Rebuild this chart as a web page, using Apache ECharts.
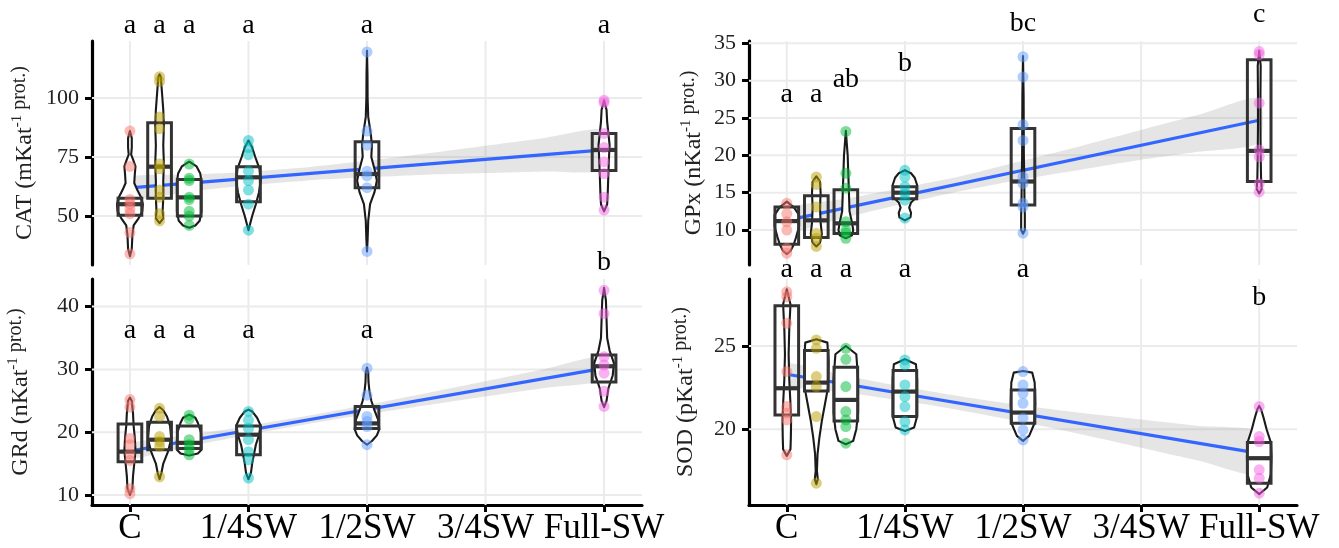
<!DOCTYPE html>
<html><head><meta charset="utf-8">
<script src="https://cdn.jsdelivr.net/npm/echarts@6/dist/echarts.min.js"></script>
<style>html,body{margin:0;padding:0;background:#fff}#c{width:1339px;height:548px}</style>
</head><body><div id="c"></div>
<script>
// ---------- shared categories / ticks ----------
const groupX = [0, 0.0625, 0.125, 0.25, 0.5, 1];
const xTickValues = [0, 0.25, 0.5, 0.75, 1];
const xTickLabels = ['C', '1/4SW', '1/2SW', '3/4SW', 'Full-SW'];
const fitX = [0, 1];
const bandX = [0, 0.125, 0.25, 0.375, 0.5, 0.625, 0.75, 0.875, 1];

// ---------- CAT ----------
const catTicks = [50, 75, 100];
const catPoints = [
  [86, 71, 57, 55, 53, 51, 43, 34],
  [109, 107, 92, 87, 72, 70, 61, 58, 51, 48],
  [72, 66, 65, 58, 57, 52, 50, 46],
  [82, 79, 76, 69, 65, 61, 55, 44],
  [119.5, 86, 80, 69, 67, 62, 35],
  [99, 98, 85, 79, 73, 68, 58, 52.5]
];
const catBox = [[50.3, 55, 57.5], [57.5, 70.9, 89.5], [50, 57.9, 65.5], [56, 66.4, 70.9], [62, 67.8, 81.5], [69.3, 78, 85]];
const catViolin = [
  [[33,0],[36,0.15],[42,0.2],[46,0.3],[49,0.7],[52,1.0],[55,1.05],[58,0.9],[61,0.6],[64,0.35],[68,0.4],[71,0.45],[74,0.25],[76,0.1],[79,0.15],[83,0.15],[86,0]],
  [[47,0],[49,0.3],[52,0.25],[58,0.3],[65,0.3],[72,0.35],[80,0.3],[88,0.35],[95,0.3],[102,0.2],[109,0.1],[110,0]],
  [[45,0],[46,0.5],[48,0.85],[52,1.0],[58,1.0],[64,1.0],[68,0.9],[71,0.6],[73,0]],
  [[44,0],[46,0.1],[50,0.3],[55,0.6],[60,0.85],[65,1.0],[70,0.9],[75,0.55],[79,0.3],[82,0]],
  [[35,0],[40,0.05],[48,0.1],[55,0.25],[60,0.6],[65,0.8],[70,0.6],[75,0.35],[80,0.4],[85,0.3],[92,0.1],[100,0.05],[110,0.04],[120,0]],
  [[52,0],[55,0.25],[60,0.3],[68,0.35],[75,0.4],[80,0.45],[85,0.35],[90,0.25],[95,0.2],[99,0]]
];
const catLetters = ['a', 'a', 'a', 'a', 'a', 'a'];
const catLetterY = [130.7, 130.7, 130.7, 130.7, 130.7, 130.7];
const catFitY = [61.9, 78.0];
const catBandUpper = [66.6, 67.5, 68.8, 70.7, 73.4, 76.5, 79.8, 83.1, 86.5];
const catBandLower = [57.2, 60.3, 63.0, 65.1, 66.4, 67.5, 68.2, 68.9, 69.5];

// ---------- GRd ----------
const grdTicks = [10, 20, 30, 40];
const grdPoints = [
  [25.2, 24, 19, 18, 16.5, 15.5, 11, 10.2],
  [23.8, 22.5, 19.3, 18.5, 17.7, 12.9],
  [22.7, 22.1, 18.8, 18, 17.2, 16.4],
  [23.3, 21.9, 20.6, 18.8, 16.9, 15.6, 12.7],
  [30.2, 25.9, 22.5, 21.7, 20.9, 18],
  [42.6, 38.9, 32, 30.7, 29.4, 26.5, 24.1]
];
const grdBox = [[15.3, 16.9, 21.3], [17.2, 18.8, 21.6], [17.4, 18.3, 21.0], [16.4, 19.6, 21.0], [20.6, 21.4, 24.1], [28.0, 30.5, 32.3]];
const grdViolin = [
  [[10,0],[11,0.2],[13,0.25],[15,0.35],[17,0.45],[19,0.4],[21,0.3],[23,0.25],[25,0.15],[25.5,0]],
  [[12.5,0],[13.5,0.15],[15,0.3],[17,0.7],[19,0.95],[21,0.85],[22.5,0.6],[23.5,0.3],[24,0]],
  [[16.3,0],[16.6,0.7],[17.2,1.0],[18.5,1.0],[20,0.95],[21.5,0.7],[22.3,0.5],[22.8,0]],
  [[12.5,0],[13.5,0.2],[15,0.3],[16.5,0.45],[18,0.6],[19.5,0.85],[21,1.0],[22.3,0.7],[23.3,0.3],[23.6,0]],
  [[18,0],[18.6,0.4],[19.5,0.8],[20.5,1.0],[22,0.9],[23.5,0.6],[25,0.35],[26.5,0.2],[28,0.12],[29.5,0.1],[30.3,0]],
  [[24,0],[25,0.2],[27,0.35],[29,0.7],[31,0.8],[33,0.45],[35,0.25],[38,0.2],[41,0.15],[43,0]]
];
const grdLetters = ['a', 'a', 'a', 'a', 'a', 'b'];
const grdLetterY = [36.2, 36.2, 36.2, 36.2, 36.2, 47];
const grdFitY = [17.0, 30.2];
const grdBandUpper = [18.2, 19.55, 21.0, 22.6, 24.35, 26.2, 28.1, 30.05, 32.1];
const grdBandLower = [15.8, 17.75, 19.6, 21.3, 22.85, 24.3, 25.7, 27.05, 28.3];

// ---------- GPx ----------
const gpxTicks = [10, 15, 20, 25, 30, 35];
const gpxPoints = [
  [13.6, 12.2, 11.1, 10, 7.55, 6.9],
  [17.1, 16.1, 13.1, 9.55, 8.9, 7.8],
  [23.2, 17.6, 15.6, 11.1, 10, 9.6, 8.9],
  [18, 17.1, 15.8, 14.9, 14, 11.6],
  [33.2, 30.5, 24.1, 22, 17.1, 16.2, 13.6, 13.1, 9.6],
  [33.9, 33.5, 27, 20.7, 19.8, 16.2, 15.1]
];
const gpxBox = [[8.1, 11.2, 13.1], [9.0, 11.3, 14.6], [9.55, 10.9, 15.4], [14.2, 15.0, 15.8], [13.35, 16.5, 23.6], [16.5, 20.6, 32.8]];
const gpxViolin = [
  [[6.8,0],[7.2,0.3],[8,0.55],[9,0.75],[10.5,1.0],[12,1.0],[13,0.6],[13.8,0]],
  [[7.8,0],[8.3,0.3],[9.5,0.45],[11,0.35],[13,0.3],[15,0.35],[16.5,0.3],[17.2,0]],
  [[8.9,0],[9.3,0.5],[10,0.6],[11,0.5],[12.5,0.3],[15,0.25],[17.5,0.2],[20,0.15],[23.3,0]],
  [[11.3,0],[11.7,0.45],[12.3,0.5],[13,0.35],[13.7,0.5],[14.5,1.0],[16,1.0],[17,0.8],[17.6,0.5],[18,0]],
  [[9.5,0],[10,0.15],[12,0.15],[14,0.12],[17,0.1],[20,0.07],[24,0.06],[28,0.05],[33.3,0]],
  [[14.9,0],[15.5,0.2],[17,0.15],[20,0.12],[24,0.1],[28,0.1],[32,0.12],[34,0]]
];
const gpxLetters = ['a', 'a', 'ab', 'b', 'bc', 'c'];
const gpxLetterY = [28.1, 28.1, 30.1, 32.3, 37.6, 38.8];
const gpxFitY = [11.3, 24.7];
const gpxBandUpper = [12.9, 14.2, 15.7, 17.3, 19.3, 21.3, 23.4, 25.5, 27.7];
const gpxBandLower = [9.7, 11.7, 13.6, 15.3, 16.8, 18.1, 19.4, 20.5, 21.7];

// ---------- SOD ----------
const sodTicks = [20, 25];
const sodPoints = [
  [28.25, 27.95, 26.36, 23.46, 21.36, 20.96, 20.56, 18.46],
  [25.36, 24.86, 23.16, 22.56, 20.76, 16.76],
  [24.86, 24.2, 22.56, 21.06, 20.56, 20.16, 19.16],
  [24.16, 23.86, 22.66, 21.96, 21.36, 20.46, 19.96],
  [23.46, 22.66, 22.16, 21.56, 20.66, 19.96, 19.36],
  [21.36, 19.56, 19.26, 17.56, 17.06, 16.16]
];
const sodBox = [[20.86, 22.46, 27.42], [22.3, 22.8, 24.72], [20.5, 21.76, 23.72], [20.76, 22.26, 23.52], [20.36, 21.0, 22.36], [16.76, 18.26, 19.2]];
const sodViolin = [
  [[18.4,0],[18.8,0.3],[19.5,0.33],[20.5,0.35],[21.5,0.3],[23,0.2],[24.5,0.15],[26,0.2],[27.5,0.3],[28.4,0]],
  [[16.7,0],[17,0.12],[17.5,0.05],[18.5,0.1],[19.5,0.25],[20.5,0.45],[21.5,0.7],[22.5,0.95],[24,1.0],[25.2,0.9],[25.4,0]],
  [[19.1,0],[19.3,0.6],[20,0.85],[21,1.0],[23,1.0],[24.5,0.85],[25,0]],
  [[19.9,0],[20.1,0.75],[20.8,1.0],[23,1.0],[23.9,0.9],[24.2,0]],
  [[19.3,0],[19.6,0.5],[20.3,0.9],[21.5,1.0],[22.8,0.95],[23.4,0.75],[23.5,0]],
  [[16.1,0],[16.5,0.65],[17.3,0.95],[18.3,1.0],[19.2,0.95],[20,0.6],[20.7,0.35],[21.2,0.15],[21.4,0]]
];
const sodLetters = ['a', 'a', 'a', 'a', 'a', 'b'];
const sodLetterY = [29.6, 29.6, 29.6, 29.6, 29.6, 27.9];
const sodFitY = [23.3, 18.55];
const sodBandUpper = [23.95, 23.21, 22.53, 21.94, 21.43, 20.98, 20.59, 20.19, 19.85];
const sodBandLower = [22.65, 22.21, 21.69, 21.1, 20.43, 19.68, 18.89, 18.09, 17.25];

// ---------- styling / layout ----------
const FONT = '"Liberation Serif", "Times New Roman", serif';
const groupColors = ['#F8766D', '#B79F00', '#00BA38', '#00BFC4', '#619CFF', '#F564E3'];
const BOX_HALF = 0.025;     // x data units
const VIOLIN_HALF = 0.026;  // x data units at relative density 1

const panels = [
  { grid: {left: 92, top: 41, width: 550, height: 224}, min: 29.25, max: 124.15, showX: false, nameGap: 52,
    label: ['CAT (mKat', '-1', ' prot.)'], ticks: catTicks, points: catPoints, box: catBox, violin: catViolin,
    letters: catLetters, letterY: catLetterY, fitY: catFitY, bandU: catBandUpper, bandL: catBandLower },
  { grid: {left: 92, top: 279, width: 550, height: 226}, min: 8.4, max: 44.4, showX: true, nameGap: 56,
    label: ['GRd (nKat', '-1', ' prot.)'], ticks: grdTicks, points: grdPoints, box: grdBox, violin: grdViolin,
    letters: grdLetters, letterY: grdLetterY, fitY: grdFitY, bandU: grdBandUpper, bandL: grdBandLower },
  { grid: {left: 749, top: 41, width: 548, height: 224}, min: 5.32, max: 35.31, showX: false, nameGap: 40,
    label: ['GPx (nKat', '-1', ' prot.)'], ticks: gpxTicks, points: gpxPoints, box: gpxBox, violin: gpxViolin,
    letters: gpxLetters, letterY: gpxLetterY, fitY: gpxFitY, bandU: gpxBandUpper, bandL: gpxBandLower },
  { grid: {left: 749, top: 279, width: 548, height: 226}, min: 15.45, max: 29.02, showX: true, nameGap: 48,
    label: ['SOD (pKat', '-1', ' prot.)'], ticks: sodTicks, points: sodPoints, box: sodBox, violin: sodViolin,
    letters: sodLetters, letterY: sodLetterY, fitY: sodFitY, bandU: sodBandUpper, bandL: sodBandLower }
];

const grids = [], xAxes = [], yAxes = [], series = [];
panels.forEach((p, i) => {
  grids.push(p.grid);
  xAxes.push({
    gridIndex: i, type: 'value', min: -0.08, max: 1.08,
    axisLine: { show: p.showX, onZero: false, lineStyle: { color: '#000', width: 3.2 } },
    axisTick: { show: p.showX, customValues: xTickValues, length: 7, lineStyle: { color: '#000', width: 3 } },
    axisLabel: { show: p.showX, customValues: xTickValues, fontSize: 35, fontFamily: FONT, color: '#000', margin: 6,
      formatter: v => { let b = 0; xTickValues.forEach((t, k) => { if (Math.abs(t - v) < Math.abs(xTickValues[b] - v)) b = k; }); return xTickLabels[b]; } },
    splitLine: { show: false }
  });
  yAxes.push({
    gridIndex: i, type: 'value', min: p.min, max: p.max,
    axisLine: { show: true, onZero: false, lineStyle: { color: '#000', width: 3.2 } },
    axisTick: { customValues: p.ticks, length: 7, lineStyle: { color: '#000', width: 3 } },
    axisLabel: { customValues: p.ticks, fontSize: 22, fontFamily: FONT, color: '#222', margin: 13 },
    splitLine: { show: false },
    name: '{m|' + p.label[0] + '}{s|' + p.label[1] + '}{p|' + p.label[2] + '}',
    nameLocation: 'middle', nameRotate: 90, nameGap: p.nameGap,
    nameTextStyle: { rich: {
      m: { fontSize: 24, fontFamily: FONT, color: '#222', lineHeight: 30, verticalAlign: 'middle' },
      s: { fontSize: 15, fontFamily: FONT, color: '#222', lineHeight: 14, verticalAlign: 'top' },
      p: { fontSize: 20, fontFamily: FONT, color: '#222', lineHeight: 25, verticalAlign: 'top' }
    } }
  });
  const ax = { xAxisIndex: i, yAxisIndex: i };
  // grid lines
  series.push(Object.assign({
    type: 'custom', z: 1, silent: true, data: [[0, p.ticks[0]]],
    renderItem: (params, api) => {
      const cs = params.coordSys, children = [];
      p.ticks.forEach(t => { const y = api.coord([0, t])[1];
        children.push({ type: 'line', shape: { x1: cs.x, y1: y, x2: cs.x + cs.width, y2: y }, style: { stroke: '#ebebeb', lineWidth: 2 } }); });
      xTickValues.forEach(t => { const x = api.coord([t, p.ticks[0]])[0];
        children.push({ type: 'line', shape: { x1: x, y1: cs.y, x2: x, y2: cs.y + cs.height }, style: { stroke: '#ebebeb', lineWidth: 2 } }); });
      return { type: 'group', children };
    }
  }, ax));
  // confidence band
  series.push(Object.assign({
    type: 'custom', z: 2, silent: true, data: [[0, p.fitY[0]]],
    renderItem: (params, api) => {
      const pts = [];
      bandX.forEach((x, k) => pts.push(api.coord([x, p.bandU[k]])));
      for (let k = bandX.length - 1; k >= 0; k--) pts.push(api.coord([bandX[k], p.bandL[k]]));
      return { type: 'polygon', shape: { points: pts, smooth: 0.2 }, style: { fill: 'rgba(153,153,153,0.25)' } };
    }
  }, ax));
  // regression line
  series.push(Object.assign({
    type: 'line', z: 3, silent: true, symbol: 'none',
    data: fitX.map((x, k) => [x, p.fitY[k]]),
    lineStyle: { color: '#3366FF', width: 3.2 }
  }, ax));
  // violins
  series.push(Object.assign({
    type: 'custom', z: 4, silent: true, data: groupX.map((x, k) => [x, p.box[k][1]]),
    renderItem: (params, api) => {
      const k = params.dataIndex, x = groupX[k], prof = p.violin[k], pts = [];
      prof.forEach(([v, r]) => pts.push(api.coord([x + r * VIOLIN_HALF, v])));
      for (let j = prof.length - 1; j >= 0; j--) pts.push(api.coord([x - prof[j][1] * VIOLIN_HALF, prof[j][0]]));
      return { type: 'polygon', shape: { points: pts }, style: { fill: '#fff', stroke: '#1a1a1a', lineWidth: 2.1, lineJoin: 'round' } };
    }
  }, ax));
  // boxes
  series.push(Object.assign({
    type: 'custom', z: 5, silent: true, data: groupX.map((x, k) => [x, p.box[k][1]]),
    renderItem: (params, api) => {
      const k = params.dataIndex, x = groupX[k], b = p.box[k];
      const tl = api.coord([x - BOX_HALF, b[2]]), br = api.coord([x + BOX_HALF, b[0]]);
      const ml = api.coord([x - BOX_HALF, b[1]]), mr = api.coord([x + BOX_HALF, b[1]]);
      return { type: 'group', children: [
        { type: 'rect', shape: { x: tl[0], y: tl[1], width: br[0] - tl[0], height: br[1] - tl[1] }, style: { fill: 'none', stroke: '#333', lineWidth: 3 } },
        { type: 'line', shape: { x1: ml[0], y1: ml[1], x2: mr[0], y2: mr[1] }, style: { stroke: '#333', lineWidth: 4.2 } }
      ] };
    }
  }, ax));
  // points
  const pd = [];
  p.points.forEach((arr, k) => arr.forEach(v => pd.push({ value: [groupX[k], v], itemStyle: { color: groupColors[k] } })));
  series.push(Object.assign({
    type: 'scatter', z: 6, silent: true, symbolSize: 11, data: pd, itemStyle: { opacity: 0.5 }
  }, ax));
  // significance letters
  series.push(Object.assign({
    type: 'custom', z: 7, silent: true, clip: false, data: groupX.map((x, k) => [x, p.letterY[k]]),
    renderItem: (params, api) => {
      const k = params.dataIndex, pt = api.coord([groupX[k], p.letterY[k]]);
      return { type: 'text', x: pt[0], y: pt[1], style: { text: p.letters[k], fontSize: 28, fontFamily: FONT, fill: '#000', align: 'center', verticalAlign: 'middle' } };
    }
  }, ax));
});

const chart = echarts.init(document.getElementById('c'), null, { renderer: 'canvas' });
chart.setOption({ animation: false, backgroundColor: '#fff', grid: grids, xAxis: xAxes, yAxis: yAxes, series });
</script></body></html>
